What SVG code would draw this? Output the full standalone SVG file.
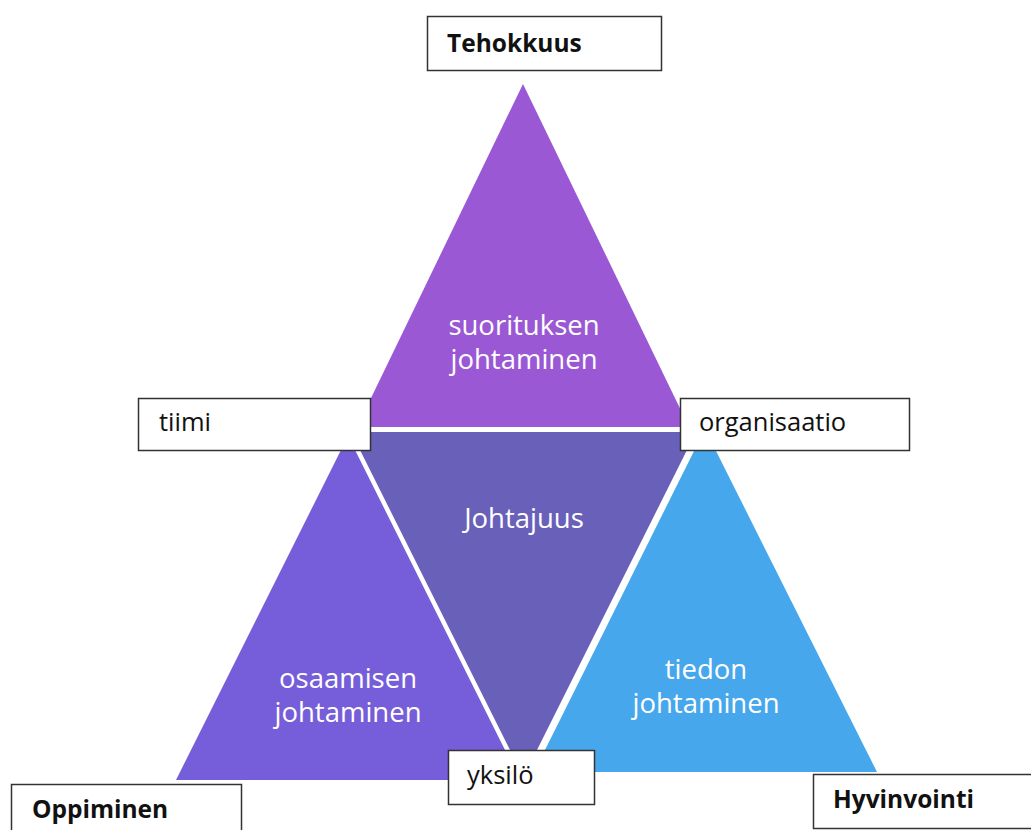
<svg xmlns="http://www.w3.org/2000/svg" width="1031" height="830" viewBox="0 0 1031 830">
  <style>
    .tri-label { font-family: "Open Sans", "Noto Sans", sans-serif; font-size: 27.5px; fill: #ffffff; text-anchor: middle; }
    .box { fill: #ffffff; stroke: #333333; stroke-width: 1.5; }
    .lbl { font-family: "Open Sans", "Noto Sans", sans-serif; font-size: 25.5px; fill: #111111; }
    .lbl-b { font-family: "Open Sans", "Noto Sans", sans-serif; font-size: 24.5px; font-weight: bold; fill: #111111; }
  </style>
  <rect width="1031" height="830" fill="#ffffff"/>

  <!-- four triangles of the model -->
  <g id="suorituksen-johtaminen">
    <polygon points="523,84 357,427 689,427" fill="#9A58D5"/>
    <text class="tri-label" x="524" y="335">suorituksen</text>
    <text class="tri-label" x="524" y="369">johtaminen</text>
  </g>
  <g id="johtajuus">
    <polygon points="351,432 696,432 523.5,777" fill="#6960B9"/>
    <text class="tri-label" x="524" y="528">Johtajuus</text>
  </g>
  <g id="osaamisen-johtaminen">
    <polygon points="348,436 176,780 520,780" fill="#765DD9"/>
    <text class="tri-label" x="348" y="688">osaamisen</text>
    <text class="tri-label" x="348" y="722">johtaminen</text>
  </g>
  <g id="tiedon-johtaminen">
    <polygon points="705,429 534,772 877,772" fill="#47A7EC"/>
    <text class="tri-label" x="706" y="679">tiedon</text>
    <text class="tri-label" x="706" y="713">johtaminen</text>
  </g>

  <!-- labels -->
  <g id="tehokkuus">
    <rect class="box" x="427.5" y="16.5" width="234" height="54"/>
    <text class="lbl-b" x="447" y="52">Tehokkuus</text>
  </g>
  <g id="tiimi">
    <rect class="box" x="138.5" y="398.5" width="232" height="52"/>
    <text class="lbl" x="159" y="431">tiimi</text>
  </g>
  <g id="organisaatio">
    <rect class="box" x="680.5" y="398.5" width="229" height="52"/>
    <text class="lbl" x="699" y="431">organisaatio</text>
  </g>
  <g id="yksilo">
    <rect class="box" x="448.5" y="750.5" width="146" height="54"/>
    <text class="lbl" x="467" y="784">yksilö</text>
  </g>
  <g id="oppiminen">
    <rect class="box" x="11.5" y="784.5" width="230" height="54"/>
    <text class="lbl-b" x="32" y="818">Oppiminen</text>
  </g>
  <g id="hyvinvointi">
    <rect class="box" x="813.5" y="774.5" width="226" height="54"/>
    <text class="lbl-b" x="833" y="808">Hyvinvointi</text>
  </g>

  <!-- no connectors in this figure -->
  <g id="connectors"/>
</svg>
